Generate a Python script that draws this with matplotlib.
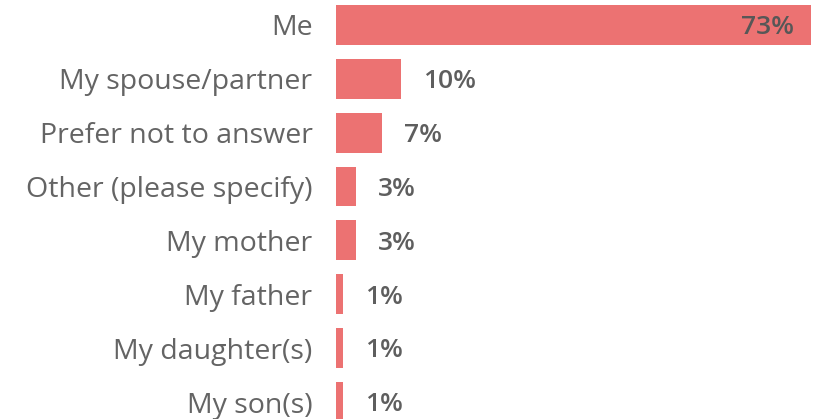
import matplotlib
matplotlib.use("Agg")
import matplotlib.pyplot as plt

categories = [
    "Me",
    "My spouse/partner",
    "Prefer not to answer",
    "Other (please specify)",
    "My mother",
    "My father",
    "My daughter(s)",
    "My son(s)",
]
values = [73, 10, 7, 3, 3, 1, 1, 1]
value_labels = ["73%", "10%", "7%", "3%", "3%", "1%", "1%", "1%"]

BAR_COLOR = "#EC7272"
LABEL_COLOR = "#646464"
VALUE_COLOR = "#5e5e5e"

plt.rcParams["font.family"] = ["Open Sans", "DejaVu Sans"]

fig = plt.figure(figsize=(8.15, 4.19), dpi=100)
ax = fig.add_axes([336 / 815, 0.0, 1 - 336 / 815, 1.0])

ypos = list(range(len(categories)))
ax.barh(ypos, values, height=0.74, color=BAR_COLOR)

ax.set_xlim(0, 73.6)
ax.set_ylim(7 + 17 / 54, -25 / 54)

for y, v, lab in zip(ypos, values, value_labels):
    if v > 50:
        ax.annotate(lab, (v, y), xytext=(-12, -2), textcoords="offset points",
                    ha="right", va="center", fontsize=19, fontweight="semibold",
                    color="#575757")
    else:
        ax.annotate(lab, (v, y), xytext=(16, -2), textcoords="offset points",
                    ha="left", va="center", fontsize=19, fontweight="semibold",
                    color=VALUE_COLOR)

ax.set_yticks(ypos)
ax.set_yticklabels(categories, fontsize=20.5, color=LABEL_COLOR)
ax.tick_params(axis="y", length=0, pad=17)
ax.set_xticks([])
for s in ax.spines.values():
    s.set_visible(False)

fig.savefig("out.png", dpi=100)
